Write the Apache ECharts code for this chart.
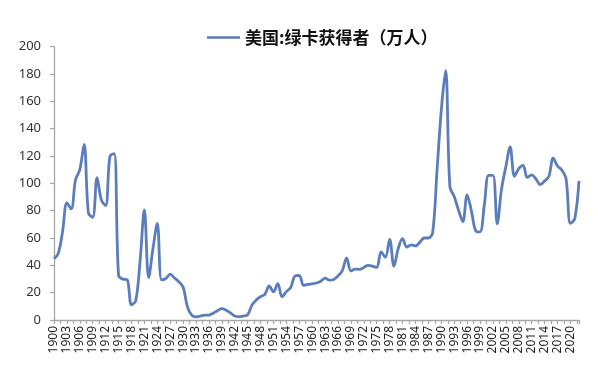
<!DOCTYPE html>
<html>
<head>
<meta charset="utf-8">
<script src="https://cdn.jsdelivr.net/npm/echarts@6/dist/echarts.min.js"></script>
<style>html,body{margin:0;padding:0;background:#fff}#c{width:598px;height:371px}</style>
</head>
<body>
<div id="c"></div>
<script>
var seriesName = '美国:绿卡获得者（万人）';
var startYear = 1900;
var values = [
  44.9, 48.8, 64.9, 85.7, 81.3, 102.6, 110.1, 128.5, 78.3, 75.2,
  104.2, 87.9, 83.8, 119.8, 121.8, 32.7, 29.9, 29.5, 11.1, 14.1,
  43.0, 80.5, 31.0, 52.3, 70.7, 29.4, 30.4, 33.5, 30.7, 28.0,
  24.2, 9.7, 3.6, 2.3, 2.9, 3.5, 3.6, 5.0, 6.8, 8.3,
  7.1, 5.2, 2.9, 2.4, 2.9, 3.8, 10.9, 14.7, 17.1, 18.8,
  24.9, 20.6, 26.6, 17.0, 20.8, 23.8, 32.2, 32.7, 25.3, 26.1,
  26.5, 27.1, 28.4, 30.6, 29.2, 29.7, 32.3, 36.2, 45.4, 35.9,
  37.3, 37.0, 38.5, 40.0, 39.4, 38.5, 49.9, 45.9, 59.0, 39.4,
  52.4, 59.5, 53.4, 55.0, 54.2, 56.8, 60.0, 60.0, 64.1, 109.0,
  153.6, 182.7, 97.4, 90.4, 80.4, 72.0, 91.6, 79.8, 65.3, 64.5,
  84.1, 105.9, 105.9, 70.4, 95.8, 112.2, 126.6, 105.2, 110.7, 113.1,
  104.3, 106.2, 103.2, 99.1, 101.7, 105.1, 118.4, 112.7, 109.7, 103.2,
  70.7, 74.0, 101.8
];
var years = values.map(function (v, i) { return startYear + i; });
var yTicks = [0, 20, 40, 60, 80, 100, 120, 140, 160, 180, 200];

var data = years.map(function (y, i) { return [y, values[i]]; });
var axisColor = '#a6a6a6';
var chart = echarts.init(document.getElementById('c'), null, {renderer: 'canvas'});
chart.setOption({
  animation: false,
  backgroundColor: '#ffffff',
  textStyle: {fontFamily: 'Noto Sans'},
  legend: {
    left: 207, top: 29, padding: 0,
    icon: 'rect', itemWidth: 33, itemHeight: 2.6, itemGap: 6,
    textStyle: {fontFamily: 'Noto Sans CJK SC', fontSize: 17, fontWeight: 'bold', color: '#111'},
    data: [seriesName]
  },
  grid: {left: 54, right: 19, top: 46.7, bottom: 51, containLabel: false},
  xAxis: {
    type: 'value',
    min: years[0], max: years[years.length - 1], interval: 3,
    axisLine: {show: true, lineStyle: {color: axisColor, width: 1.3}},
    axisTick: {show: true, length: 4, lineStyle: {color: axisColor, width: 1.2}},
    minorTick: {show: true, splitNumber: 2, length: 4, lineStyle: {color: axisColor, width: 1.2}},
    splitLine: {show: false},
    axisLabel: {
      rotate: 90, margin: 6, fontSize: 12, color: '#222', fontFamily: 'Noto Sans',
      showMaxLabel: false,
      formatter: function (v) { return ((v - startYear) % 3 === 0) ? String(v) : ''; }
    }
  },
  yAxis: {
    type: 'value', min: yTicks[0], max: yTicks[yTicks.length - 1], interval: yTicks[1] - yTicks[0],
    axisLine: {show: true, lineStyle: {color: axisColor, width: 1.3}},
    axisTick: {show: true, length: 4, lineStyle: {color: axisColor, width: 1.2}},
    splitLine: {show: false},
    axisLabel: {margin: 13, fontSize: 13, color: '#333', fontFamily: 'Noto Sans'}
  },
  series: [{
    name: seriesName,
    type: 'line',
    data: data,
    smooth: 0.35,
    showSymbol: false,
    symbol: 'none',
    lineStyle: {color: '#5b7dbb', width: 2.8},
    itemStyle: {color: '#5b7dbb'}
  }]
});
</script>
</body>
</html>
